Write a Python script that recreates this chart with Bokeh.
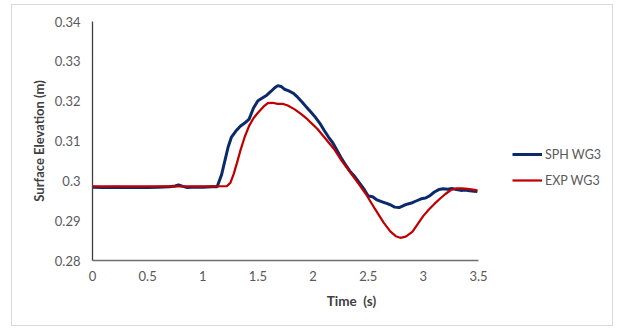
from bokeh.plotting import figure
from bokeh.models import Legend, LegendItem, CustomJSTickFormatter, FixedTicker, Range1d
from bokeh.embed import file_html
from bokeh.resources import INLINE

# SPH WG3 (simulation)
sph_t = [0.0, 0.1, 0.2, 0.3, 0.4, 0.5, 0.6, 0.7, 0.75, 0.78, 0.82, 0.86, 0.9, 1.0, 1.08, 1.13,
         1.17, 1.20, 1.23, 1.26, 1.30, 1.34, 1.38, 1.42, 1.46, 1.50, 1.54, 1.58, 1.62, 1.65, 1.68,
         1.71, 1.74, 1.78, 1.82, 1.86, 1.90, 1.94, 1.98, 2.02, 2.06, 2.10, 2.14, 2.18, 2.22, 2.26,
         2.30, 2.34, 2.38, 2.42, 2.46, 2.50, 2.54, 2.58, 2.62, 2.66, 2.70, 2.74, 2.78, 2.82, 2.86,
         2.90, 2.94, 2.98, 3.02, 3.06, 3.10, 3.14, 3.18, 3.22, 3.26, 3.30, 3.34, 3.38, 3.42, 3.46, 3.49]
sph_v = [0.2984, 0.2983, 0.2984, 0.2983, 0.2983, 0.2983, 0.2984, 0.2985, 0.2987, 0.2990, 0.2986,
         0.2983, 0.2984, 0.2984, 0.2985, 0.2985,
         0.3015, 0.3050, 0.3085, 0.3110, 0.3125, 0.3137, 0.3145, 0.3155, 0.3183, 0.3201, 0.3208,
         0.3215, 0.3225, 0.3233, 0.3239,
         0.3237, 0.3230, 0.3226, 0.3220, 0.3210, 0.3198, 0.3185, 0.3173, 0.3160, 0.3145, 0.3127,
         0.3110, 0.3095, 0.3075, 0.3055, 0.3038, 0.3022, 0.3010, 0.2995, 0.2980, 0.2962, 0.2960,
         0.2952, 0.2948, 0.2944, 0.2940, 0.2934, 0.2933, 0.2938, 0.2942, 0.2945, 0.2950, 0.2955,
         0.2957, 0.2963, 0.2972, 0.2978, 0.2980, 0.2979, 0.2981, 0.2978, 0.2976, 0.2977, 0.2975,
         0.2974, 0.2973]

# EXP WG3 (experiment)
exp_t = [0.0, 0.5, 1.0, 1.22, 1.25, 1.28, 1.31, 1.34, 1.38, 1.42, 1.46, 1.50, 1.55, 1.59, 1.63,
         1.68, 1.73, 1.77, 1.83, 1.89, 1.94, 1.98, 2.04, 2.10, 2.19, 2.26, 2.34, 2.42, 2.49, 2.56,
         2.64, 2.70, 2.75, 2.79, 2.84, 2.90, 2.95, 3.00, 3.05, 3.10, 3.15, 3.20, 3.25, 3.30, 3.35,
         3.40, 3.45, 3.49]
exp_v = [0.2986, 0.2986, 0.2986, 0.2987, 0.2995, 0.3017, 0.3045, 0.3075, 0.3110, 0.3138, 0.3157,
         0.3171, 0.3186, 0.3195, 0.3196, 0.3193, 0.3193, 0.3189, 0.3180, 0.3168, 0.3157, 0.3146,
         0.3130, 0.3110, 0.3080, 0.3050, 0.3020, 0.2990, 0.2962, 0.2930, 0.2895, 0.2873, 0.2861,
         0.2857, 0.2860, 0.2872, 0.2892, 0.2912, 0.2928, 0.2942, 0.2955, 0.2967, 0.2977, 0.2981,
         0.2981, 0.2980, 0.2978, 0.2976]

x_ticks = [0, 0.5, 1, 1.5, 2, 2.5, 3, 3.5]
y_ticks = [0.28, 0.29, 0.30, 0.31, 0.32, 0.33, 0.34]

FONT = "Lato"
TXT = "#595959"

W, H = 602, 322
LEFT, RIGHT, TOP, BOTTOM = 80, 4, 16, 67
PLOT_W = 386  # pixel width of the 0..3.5 axis span
x_end = 3.5 * (W - LEFT - RIGHT) / PLOT_W  # frame extends past 3.5 to hold the legend

p = figure(width=W, height=H, output_backend="svg", toolbar_location=None,
           x_range=Range1d(0, x_end), y_range=Range1d(0.28, 0.34),
           min_border_left=LEFT, min_border_right=RIGHT, min_border_top=TOP,
           min_border_bottom=BOTTOM)
p.styles = {"border": "1px solid #d9d9d9", "margin-left": "11px", "margin-top": "4px"}
p.outline_line_color = None
p.xgrid.visible = False
p.ygrid.visible = False

fmt = CustomJSTickFormatter(code="return String(Number(tick.toFixed(3)));")
for ax, ticks in ((p.xaxis[0], x_ticks), (p.yaxis[0], y_ticks)):
    ax.ticker = FixedTicker(ticks=ticks)
    ax.formatter = fmt
    ax.major_tick_in = 0
    ax.major_tick_out = 0
    ax.minor_tick_in = 0
    ax.minor_tick_out = 0
    ax.major_label_text_font = FONT
    ax.major_label_text_font_size = "13px"
    ax.major_label_text_color = TXT
    ax.axis_label_text_font = FONT
    ax.axis_label_text_font_style = "bold"
    ax.axis_label_text_color = "#404040"
    ax.axis_line_width = 1.3

p.xaxis[0].bounds = (0, 3.5)
p.yaxis[0].axis_line_color = "#404040"
p.xaxis[0].axis_line_color = "#6f6f6f"
p.xaxis[0].axis_label = "Time\u00a0\u00a0(s)"
p.yaxis[0].axis_label = "Surface Elevation (m)"
p.xaxis[0].axis_label_text_font_size = "13.5px"
p.yaxis[0].axis_label_text_font_size = "13px"
p.yaxis[0].major_label_standoff = 12
p.yaxis[0].axis_label_standoff = 5
p.xaxis[0].major_label_standoff = 10
p.xaxis[0].axis_label_standoff = 9

r_sph = p.line(sph_t, sph_v, line_color="#0b2a6b", line_width=3)
r_exp = p.line(exp_t, exp_v, line_color="#c00000", line_width=2.25)

legend = Legend(items=[LegendItem(label="SPH WG3", renderers=[r_sph]),
                       LegendItem(label="EXP WG3", renderers=[r_exp])],
                location=(420, 70), glyph_width=30, glyph_height=20, label_height=20,
                label_standoff=3, spacing=6, padding=0, margin=0,
                border_line_color=None, background_fill_alpha=0,
                label_text_font=FONT, label_text_font_size="12.5px", label_text_color=TXT)
p.add_layout(legend, "center")

open("out.html", "w").write(file_html(p, INLINE))
